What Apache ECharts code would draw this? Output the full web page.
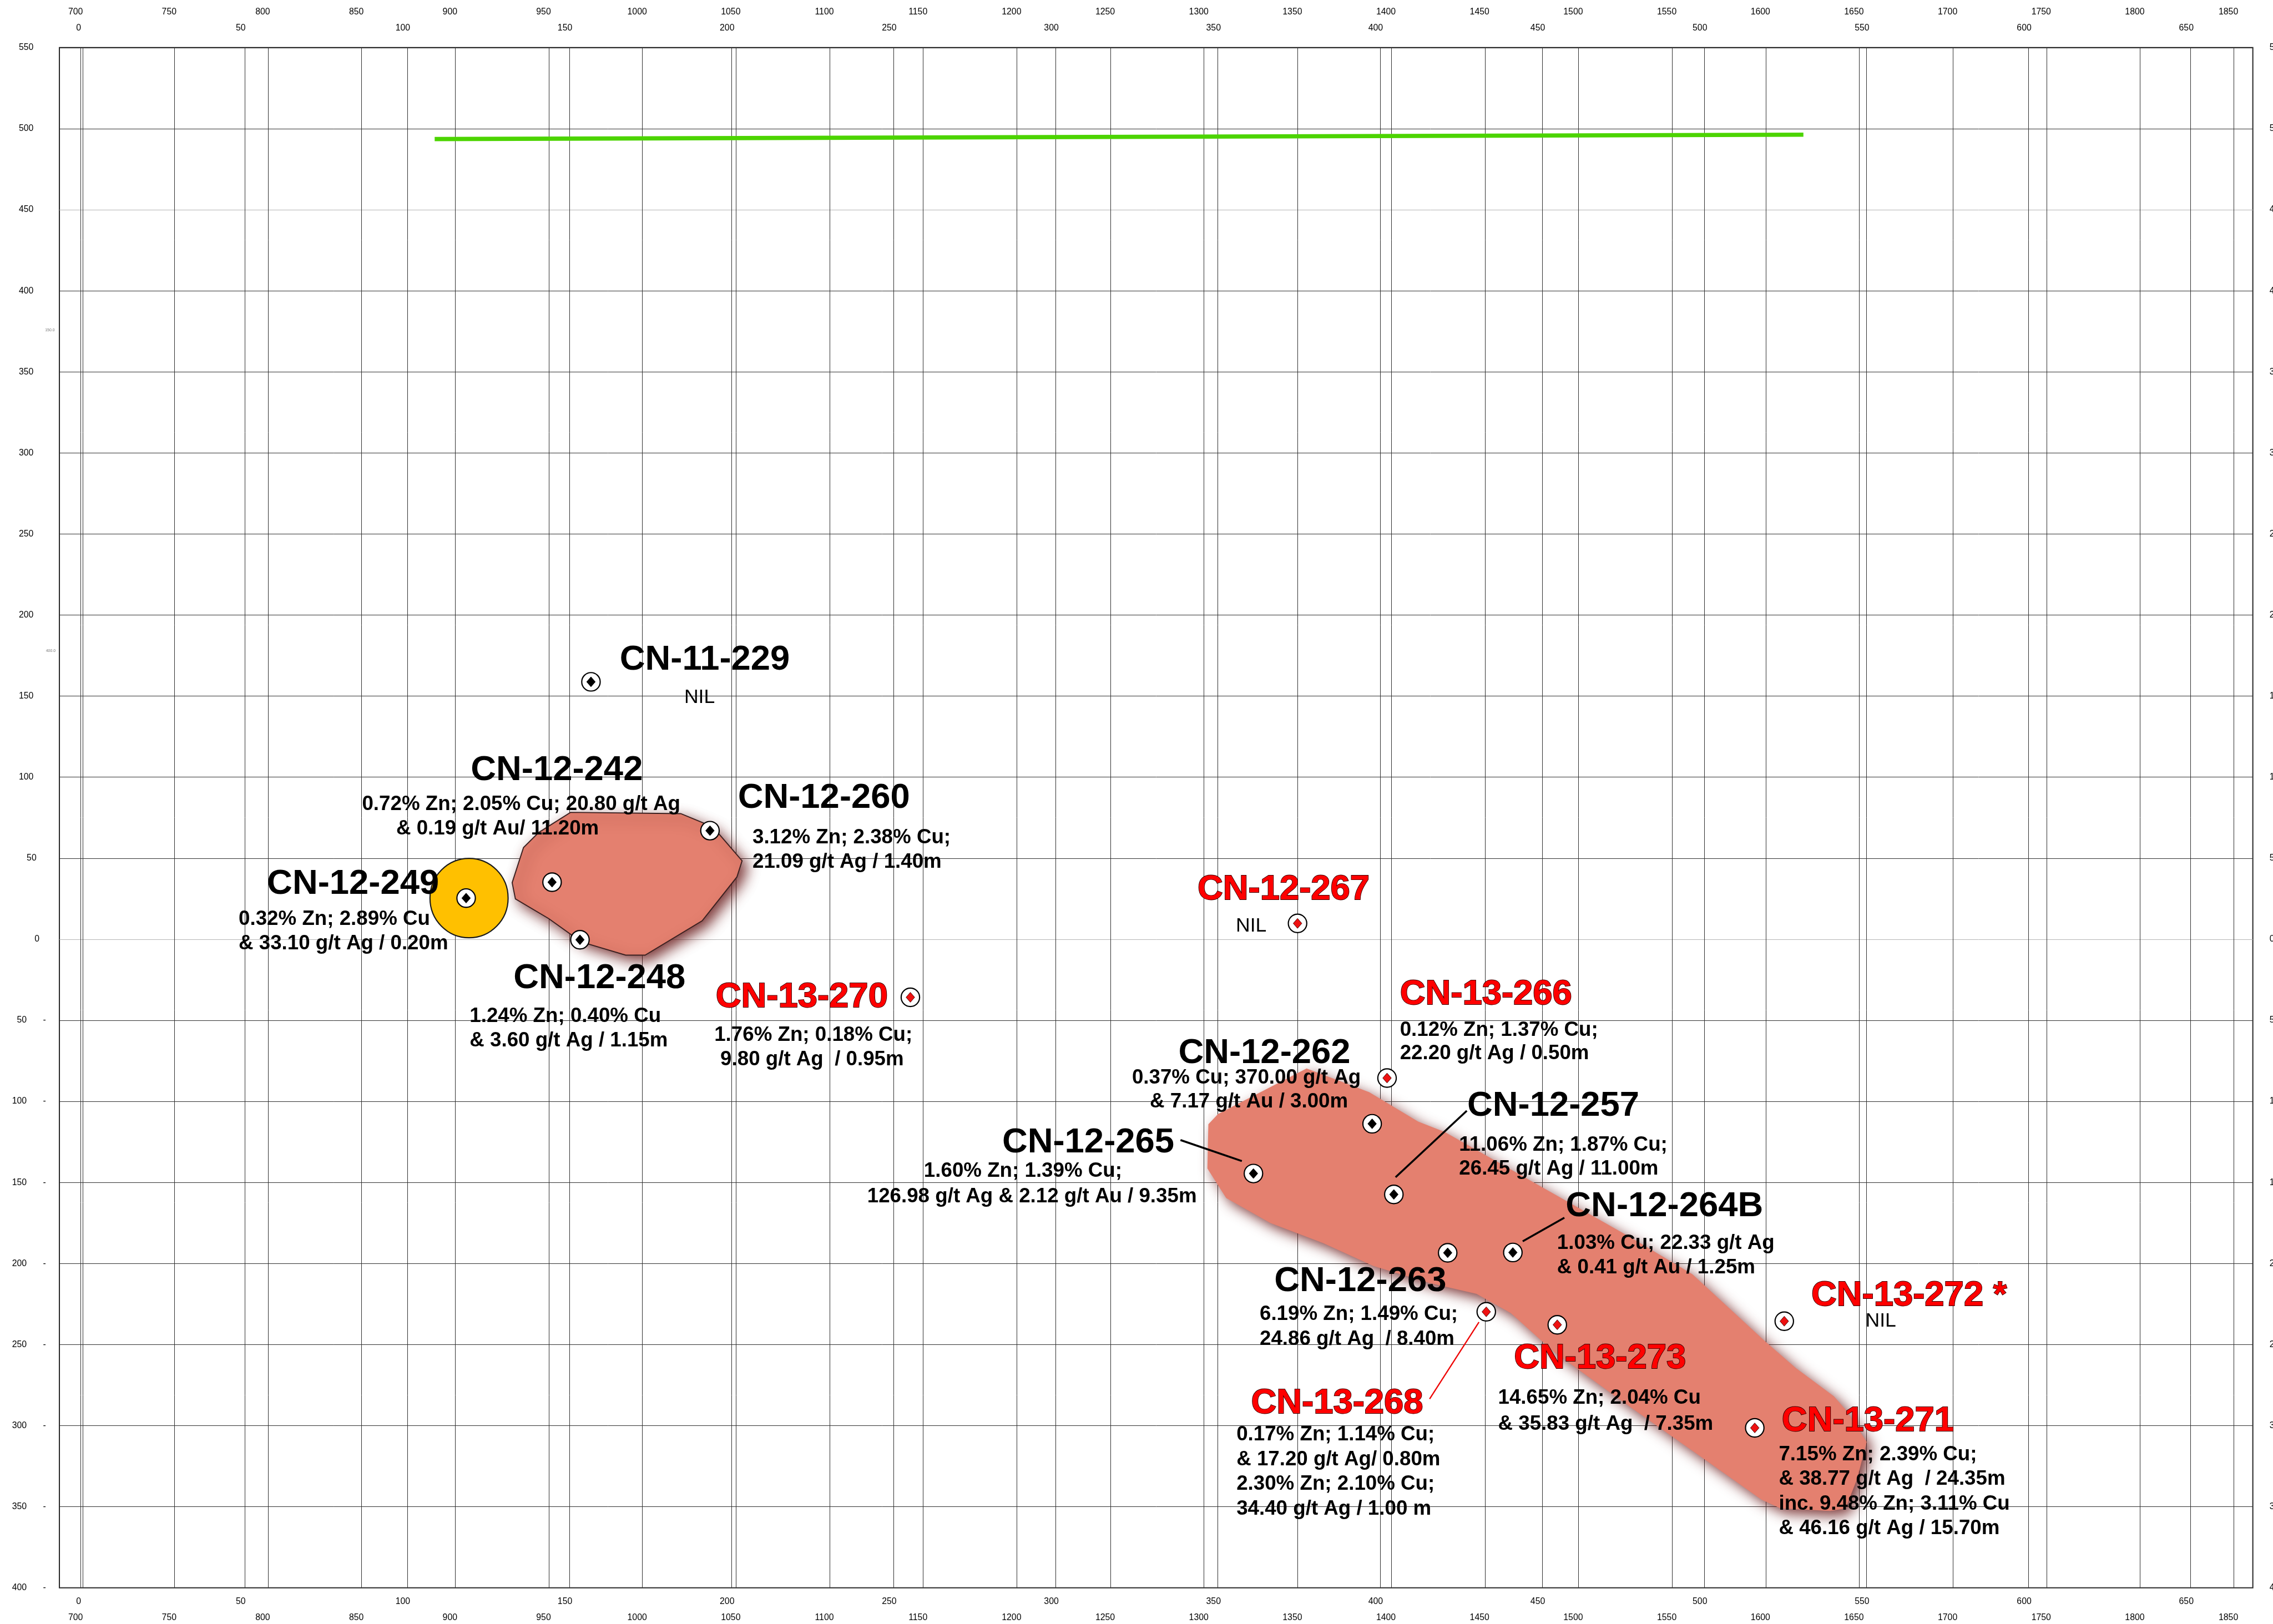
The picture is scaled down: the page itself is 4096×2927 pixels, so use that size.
<!DOCTYPE html>
<html>
<head>
<meta charset="utf-8">
<title>Long section</title>
<script src="https://cdn.jsdelivr.net/npm/echarts@6.0.0/dist/echarts.min.js"></script>
<style>
html,body{margin:0;padding:0;background:#ffffff;overflow:hidden}
#chart{width:4096px;height:2927px}
</style>
</head>
<body>
<div id="chart"></div>
<script>
// ================= DATA =================
const elevationTicks = [550,500,450,400,350,300,250,200,150,100,50,0,-50,-100,-150,-200,-250,-300,-350,-400];
const sectionTicks = [0,50,100,150,200,250,300,350,400,450,500,550,600,650];
const northingTicks = [700,750,800,850,900,950,1000,1050,1100,1150,1200,1250,1300,1350,1400,1450,1500,1550,1600,1650,1700,1750,1800,1850];

const holeNames = ['CN-11-229','CN-12-249','CN-12-242','CN-12-260','CN-12-248','CN-12-267','CN-13-270','CN-13-266','CN-12-262','CN-12-265','CN-12-257','CN-12-263','CN-12-264B','CN-13-268','CN-13-273','CN-13-272 *','CN-13-271'];
const holeSection   = [156.7,118.2,144.7,193.4,153.3,374.6,255.2,402.2,397.6,361.0,404.3,420.9,441.0,432.8,454.7,524.7,515.6];
const holeElevation = [158.8,25.4,35.2,67.0,-0.3,9.8,-35.8,-85.6,-113.8,-144.5,-157.4,-193.4,-193.2,-229.8,-237.8,-235.6,-301.4];
const holeHighlighted = [0,0,0,0,0,1,1,1,0,0,0,0,0,1,1,1,1];
const holeResults = [
  ['NIL'],
  ['0.32% Zn; 2.89% Cu','& 33.10 g/t Ag / 0.20m'],
  ['0.72% Zn; 2.05% Cu; 20.80 g/t Ag','& 0.19 g/t Au/ 11.20m'],
  ['3.12% Zn; 2.38% Cu;','21.09 g/t Ag / 1.40m'],
  ['1.24% Zn; 0.40% Cu','& 3.60 g/t Ag / 1.15m'],
  ['NIL'],
  ['1.76% Zn; 0.18% Cu;','9.80 g/t Ag  / 0.95m'],
  ['0.12% Zn; 1.37% Cu;','22.20 g/t Ag / 0.50m'],
  ['0.37% Cu; 370.00 g/t Ag','& 7.17 g/t Au / 3.00m'],
  ['1.60% Zn; 1.39% Cu;','126.98 g/t Ag & 2.12 g/t Au / 9.35m'],
  ['11.06% Zn; 1.87% Cu;','26.45 g/t Ag / 11.00m'],
  ['6.19% Zn; 1.49% Cu;','24.86 g/t Ag  / 8.40m'],
  ['1.03% Cu; 22.33 g/t Ag','& 0.41 g/t Au / 1.25m'],
  ['0.17% Zn; 1.14% Cu;','& 17.20 g/t Ag/ 0.80m','2.30% Zn; 2.10% Cu;','34.40 g/t Ag / 1.00 m'],
  ['14.65% Zn; 2.04% Cu','& 35.83 g/t Ag  / 7.35m'],
  ['NIL'],
  ['7.15% Zn; 2.39% Cu;','& 38.77 g/t Ag  / 24.35m','inc. 9.48% Zn; 3.11% Cu','& 46.16 g/t Ag / 15.70m']
];

const highGradeSection = [119.1];
const highGradeElevation = [25.4];

const surfaceSection = [108.5, 530.6];
const surfaceElevation = [493.6, 496.3];

const zoneASection = [150.4,184.4,194.3,203.3,201.7,191.0,173.4,167.4,153.7,143.7,133.4,132.4,135.9,140.6];
const zoneAElevation = [78.3,77.5,69.3,48.4,38.4,11.4,-9.8,-9.8,-1.6,12.7,24.9,34.9,56.6,65.9];

const zoneBSection = [377.4,396.7,411.8,420.0,477.4,496.4,518.7,528.3,540.0,543.6,550.1,547.2,543.6,538.8,523.5,517.7,501.1,477.4,453.6,440.4,429.8,415.2,398.0,382.5,366.2,352.6,346.8,347.1,350.1];
const zoneBElevation = [-79.7,-94.3,-112.5,-118.9,-184,-206.7,-247.8,-264.5,-281.9,-290.1,-310,-332.7,-351,-352.6,-351,-345.7,-322.2,-288.8,-254.4,-230.6,-218.7,-212,-201.5,-187.4,-175,-159.6,-141.4,-114.1,-107.8];

// ================= LAYOUT (reference px offsets from each hole) =================
const S = 4096 / 5296;
const labelLayout = [
  {name:[67,-51,'left'],    lines:[[253,36,'center']]},
  {name:[-464,-32,'left'],  lines:[[-530,50,'left'],[-530,106,'left']]},
  {name:[11,-260,'center'], lines:[[-72,-181,'center'],[-127,-124,'center']]},
  {name:[65,-76,'left'],    lines:[[99,16,'left'],[99,74,'left']]},
  {name:[-155,90,'left'],   lines:[[-257,178,'left'],[-257,235,'left']]},
  {name:[-233,-78,'left'],  lines:[[-108,6,'center']]},
  {name:[-253,0,'center'],  lines:[[-226,88,'center'],[-229,145,'center']]},
  {name:[30,-194,'left'],   lines:[[30,-112,'left'],[30,-57,'left']]},
  {name:[-251,-164,'center'], lines:[[-293,-107,'center'],[-287,-51,'center']]},
  {name:[-385,-72,'center'],  lines:[[-537,-6,'center'],[-516,54,'center']]},
  {name:[171,-206,'left'],  lines:[[152,-115,'left'],[152,-59,'left']]},
  {name:[-404,66,'left'],   lines:[[-438,144,'left'],[-438,201,'left']]},
  {name:[123,-107,'left'],  lines:[[103,-22,'left'],[103,35,'left']]},
  {name:[-548,213,'left'],  lines:[[-582,287,'left'],[-582,345,'left'],[-582,402,'left'],[-582,460,'left']]},
  {name:[-101,78,'left'],   lines:[[-138,171,'left'],[-138,232,'left']]},
  {name:[63,-59,'left'],    lines:[[189,0,'left']]},
  {name:[63,-16,'left'],    lines:[[56,62,'left'],[56,120,'left'],[56,177,'left'],[56,234,'left']]}
];
// [hole, dx1, dy1, dx2, dy2, color, width]
const leaders = [
  [9, -170, -78, -27, -29, '#000000', 4.5],
  [10, 170, -195, 4, -40, '#000000', 4.5],
  [12, 120, -81, 23, -26, '#000000', 4.5],
  [13, -132, 203, -17, 24, '#ee0000', 3]
];

const FF = "'Liberation Sans', Arial, Helvetica, sans-serif";
const AXF = 20.5 * S;
const textStyles = {
  name:  {font: 'bold ' + (82*S) + 'px ' + FF, fill:'#000000'},
  red:   {font: 'bold ' + (82*S) + 'px ' + FF, fill:'#ff0000', stroke:'#3a0000', lineWidth: 2.4*S},
  assay: {font: 'bold ' + (47.5*S) + 'px ' + FF, fill:'#000000'},
  nil:   {font: (46*S) + 'px ' + FF, fill:'#000000'}
};

const labelEntries = [];
holeNames.forEach((nm, i) => {
  const L = labelLayout[i];
  labelEntries.push({hole:i, text:nm, kind: holeHighlighted[i] ? 'red' : 'name', dx:L.name[0], dy:L.name[1], align:L.name[2]});
  holeResults[i].forEach((t, j) => {
    const l = L.lines[j];
    labelEntries.push({hole:i, text:t, kind: t === 'NIL' ? 'nil' : 'assay', dx:l[0], dy:l[1], align:l[2]});
  });
});

const holePoints = holeSection.map((x, i) => [x, holeElevation[i]]);

const chart = echarts.init(document.getElementById('chart'), null, {width:4096, height:2927, devicePixelRatio:1});

const GRID_LEFT = 138.4*S, GRID_TOP = 111*S, GRID_RIGHT = 4096 - 5249*S, GRID_BOTTOM = 2927 - 3700*S;

const ascTicks = elevationTicks.slice().sort((a,b)=>a-b);
const ySplitColors = ascTicks.map(v => (v === 0 || v === 450) ? '#b4b4b4' : '#303030');

const xBase = {type:'value', axisLine:{show:false}, axisTick:{show:false}, splitLine:{show:false}};
function xLab(ticks, margin, shift) {
  return {customValues: ticks, margin: margin, fontSize: AXF, fontFamily: FF, color:'#000',
          padding:[0, 2*shift*S, 0, 0], formatter:(v)=>String(v)};
}
const secMin = -7.23, secMax = 669.2, norMin = 688.63, norMax = 1860.3;

function vGrid(axisIndex, ticks) {
  return {
    type:'custom', xAxisIndex:axisIndex, yAxisIndex:0, silent:true, z:1, animation:false,
    data: ticks.map(t => [t, 0]),
    renderItem(params, api) {
      const cs = params.coordSys;
      const x = Math.round(api.coord([api.value(0), 0])[0]) + 0.5;
      return {type:'line', shape:{x1:x, y1:cs.y, x2:x, y2:cs.y + cs.height}, style:{stroke:'#303030', lineWidth:1}};
    }
  };
}
function zoneSeries(xs, es, style, z) {
  return {
    type:'custom', xAxisIndex:0, yAxisIndex:0, silent:true, z:z, animation:false,
    data: [[xs[0], es[0]]],
    renderItem(params, api) {
      const pts = xs.map((x, i) => api.coord([x, es[i]]));
      return {type:'polygon', shape:{points:pts}, style: style};
    }
  };
}

const yLabRich = {
  p:{fontSize:AXF, fontFamily:FF, color:'#000', padding:[0, 29*S, 0, 0]},
  q:{fontSize:AXF, fontFamily:FF, color:'#000', padding:[0, 22*S, 0, 0]},
  r:{fontSize:AXF, fontFamily:FF, color:'#000', padding:[0, 15*S, 0, 0]},
  n:{fontSize:AXF, fontFamily:FF, color:'#000'},
  d:{fontSize:AXF, fontFamily:FF, color:'#000', padding:[0, 0, 0, 38*S]}
};

const option = {
  animation:false,
  backgroundColor:'#ffffff',
  grid:{left:GRID_LEFT, top:GRID_TOP, right:GRID_RIGHT, bottom:GRID_BOTTOM, containLabel:false, outerBoundsMode:'none',
        show:true, borderColor:'#262626', borderWidth:2, backgroundColor:'transparent'},
  xAxis:[
    Object.assign({}, xBase, {position:'top', min:secMin, max:secMax, axisLabel:xLab(sectionTicks, 27.3, 10)}),
    Object.assign({}, xBase, {position:'top', min:norMin, max:norMax, axisLabel:xLab(northingTicks, 56.5, 12)}),
    Object.assign({}, xBase, {position:'bottom', min:secMin, max:secMax, axisLabel:xLab(sectionTicks, 16.8, 10)}),
    Object.assign({}, xBase, {position:'bottom', min:norMin, max:norMax, axisLabel:xLab(northingTicks, 46.3, 12)})
  ],
  yAxis:[
    {type:'value', position:'left', min:-400, max:550, interval:50,
     axisLine:{show:false}, axisTick:{show:false},
     splitLine:{show:true, lineStyle:{color:ySplitColors, width:1}},
     axisLabel:{margin:(138.4-107)*S, rich:yLabRich,
       formatter:(v)=> v < 0 ? '{n|' + (-v) + '}{d|-}' : (v >= 100 ? '{p|' + v + '}' : (v === 50 ? '{q|' + v + '}' : '{r|' + v + '}'))}},
    {type:'value', position:'right', min:-400, max:550, interval:50,
     axisLine:{show:false}, axisTick:{show:false}, splitLine:{show:false},
     axisLabel:{margin:(5288-5249)*S, fontSize:AXF, fontFamily:FF, color:'#000', formatter:(v)=>String(Math.abs(v))}}
  ],
  graphic:[
    {type:'text', left:105*S, top:765*S, style:{text:'150.0', font:(9*S)+'px '+FF, fill:'#777'}},
    {type:'text', left:107*S, top:1512*S, style:{text:'400.0', font:(9*S)+'px '+FF, fill:'#777'}}
  ],
  series:[
    vGrid(0, sectionTicks),
    vGrid(1, northingTicks),
    zoneSeries(zoneBSection, zoneBElevation, {fill:'#e4806f', shadowBlur:30*S, shadowColor:'rgba(105,25,25,0.85)', shadowOffsetX:12*S, shadowOffsetY:12*S}, 2),
    zoneSeries(zoneASection, zoneAElevation, {fill:'#e4806f', stroke:'#3a2020', lineWidth:2.5*S, shadowBlur:30*S, shadowColor:'rgba(105,25,25,0.85)', shadowOffsetX:12*S, shadowOffsetY:12*S}, 2),
    {type:'line', xAxisIndex:0, yAxisIndex:0, z:3, silent:true, symbol:'none',
     data: surfaceSection.map((x,i)=>[x, surfaceElevation[i]]),
     lineStyle:{color:'#4cd400', width:10*S}},
    {type:'scatter', xAxisIndex:0, yAxisIndex:0, z:4, silent:true, symbol:'circle', symbolSize:[182*S, 185*S],
     data: highGradeSection.map((x,i)=>[x, highGradeElevation[i]]),
     itemStyle:{color:'#ffc000', borderColor:'#1a1a1a', borderWidth:2.8*S, opacity:1}},
    {type:'scatter', xAxisIndex:0, yAxisIndex:0, z:5, silent:true, symbol:'circle', symbolSize:43*S,
     data: holePoints,
     itemStyle:{color:'#ffffff', borderColor:'#000000', borderWidth:2.8*S, opacity:1}},
    {type:'scatter', xAxisIndex:0, yAxisIndex:0, z:6, silent:true, symbol:'diamond', symbolSize:[20*S, 23*S],
     data: holePoints.map((p,i)=>({value:p, itemStyle:{color: holeHighlighted[i] ? '#ee1111' : '#000000', borderColor: holeHighlighted[i] ? '#400000' : '#000000', borderWidth: 1.2*S}})),
     itemStyle:{opacity:1}},
    {type:'custom', xAxisIndex:0, yAxisIndex:0, z:7, silent:true,
     data: leaders.map(l => holePoints[l[0]]),
     renderItem(params, api) {
       const L = leaders[params.dataIndex];
       const p = api.coord([api.value(0), api.value(1)]);
       return {type:'line', shape:{x1:p[0]+L[1]*S, y1:p[1]+L[2]*S, x2:p[0]+L[3]*S, y2:p[1]+L[4]*S}, style:{stroke:L[5], lineWidth:L[6]*S}};
     }},
    {type:'custom', xAxisIndex:0, yAxisIndex:0, z:8, silent:true,
     data: labelEntries.map(e => holePoints[e.hole]),
     renderItem(params, api) {
       const e = labelEntries[params.dataIndex];
       const p = api.coord([api.value(0), api.value(1)]);
       const st = Object.assign({text:e.text, align:e.align, verticalAlign:'middle', textAlign:e.align, textVerticalAlign:'middle'}, textStyles[e.kind]);
       return {type:'text', x:p[0] + e.dx*S, y:p[1] + e.dy*S, style:st};
     }}
  ]
};
chart.setOption(option);
</script>
</body>
</html>
